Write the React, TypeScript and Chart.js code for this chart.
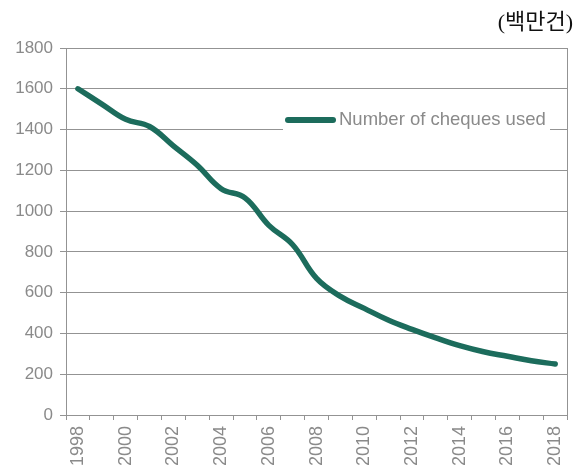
import React, { useEffect, useRef } from "react";
import { Chart, registerables } from "chart.js";

Chart.register(...registerables);

const years: string[] = [
  "1998", "1999", "2000", "2001", "2002", "2003", "2004", "2005", "2006", "2007",
  "2008", "2009", "2010", "2011", "2012", "2013", "2014", "2015", "2016", "2017", "2018",
];
const cheques: number[] = [
  1600, 1525, 1450, 1415, 1320, 1225, 1110, 1065, 930, 835,
  670, 582, 523, 466, 420, 378, 340, 310, 288, 266, 250,
];
const seriesName = "Number of cheques used";
const unitLabel = "(백만건)";

const LINE_COLOR = "rgb(28,108,92)";
const GRID_COLOR = "#939393";
const TEXT_COLOR = "#8a8a8a";

export default function App() {
  const ref = useRef<HTMLCanvasElement | null>(null);

  useEffect(() => {
    if (!ref.current) return;
    const legendPlugin = {
      id: "insideLegend",
      afterDraw(chart: any) {
        const { ctx, chartArea } = chart;
        ctx.save();
        ctx.strokeStyle = GRID_COLOR;
        ctx.lineWidth = 1;
        ctx.beginPath();
        ctx.moveTo(Math.round(chartArea.right) + 0.5, chartArea.top);
        ctx.lineTo(Math.round(chartArea.right) + 0.5, chartArea.bottom);
        ctx.stroke();
        ctx.fillStyle = "#ffffff";
        ctx.fillRect(283, 100, 267, 40);
        ctx.strokeStyle = LINE_COLOR;
        ctx.lineWidth = 6;
        ctx.lineCap = "round";
        ctx.beginPath();
        ctx.moveTo(288, 120);
        ctx.lineTo(333, 120);
        ctx.stroke();
        ctx.fillStyle = TEXT_COLOR;
        ctx.font = "18.5px 'Liberation Sans', Arial, sans-serif";
        ctx.textBaseline = "middle";
        ctx.textAlign = "left";
        ctx.fillText(seriesName, 339, 120);
        ctx.restore();
      },
    };

    const chart = new Chart(ref.current, {
      type: "line",
      data: {
        labels: years,
        datasets: [
          {
            label: seriesName,
            data: cheques,
            borderColor: LINE_COLOR,
            backgroundColor: LINE_COLOR,
            borderWidth: 5.5,
            pointRadius: 0,
            tension: 0.4,
            borderCapStyle: "round",
            borderJoinStyle: "round",
            fill: false,
          },
        ],
      },
      options: {
        animation: false,
        responsive: true,
        maintainAspectRatio: false,
        layout: { padding: { left: 0, top: 48, right: 8, bottom: 0 } },
        plugins: {
          legend: { display: false },
          tooltip: { enabled: false },
        },
        scales: {
          x: {
            type: "category",
            offset: true,
            afterFit: (s: any) => {
              s.height = 57;
            },
            grid: {
              offset: true,
              drawOnChartArea: false,
              drawTicks: true,
              tickLength: 5,
              color: GRID_COLOR,
            },
            border: { display: true, color: GRID_COLOR },
            ticks: {
              autoSkip: false,
              minRotation: 90,
              maxRotation: 90,
              padding: 6,
              color: TEXT_COLOR,
              font: { family: "'Liberation Sans', Arial, sans-serif", size: 18 },
              callback: (_v: any, i: number) => (i % 2 === 0 ? years[i] : ""),
            },
          },
          y: {
            min: 0,
            max: 1800,
            afterFit: (s: any) => {
              s.width = 66;
            },
            grid: {
              color: GRID_COLOR,
              drawTicks: true,
              tickLength: 6,
            },
            border: { display: true, color: GRID_COLOR },
            ticks: {
              stepSize: 200,
              padding: 7,
              color: TEXT_COLOR,
              font: { family: "'Liberation Sans', Arial, sans-serif", size: 17 },
              callback: (v: any) => String(v),
            },
          },
        },
      },
      plugins: [legendPlugin],
    });
    return () => chart.destroy();
  }, []);

  return (
    <div
      style={{
        position: "fixed",
        left: 0,
        top: 0,
        width: 583,
        height: 472,
        background: "#ffffff",
      }}
    >
      <canvas ref={ref} style={{ display: "block" }} />
      <div
        style={{
          position: "absolute",
          right: 10,
          top: 8,
          fontFamily: "'Liberation Serif', 'DejaVu Serif', 'Noto Sans CJK KR', serif",
          fontSize: 22,
          lineHeight: "28px",
          color: "#111",
        }}
      >
        {unitLabel}
      </div>
    </div>
  );
}
